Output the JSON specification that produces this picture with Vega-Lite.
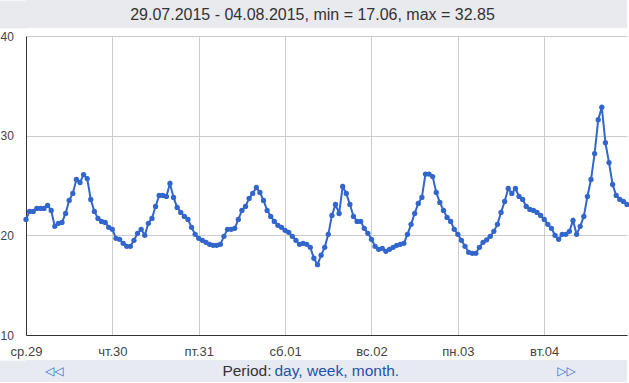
{
  "$schema": "https://vega.github.io/schema/vega-lite/v6.json",
  "padding": 0,
  "spacing": 2,
  "background": "white",
  "config": {
    "font": "Liberation Sans",
    "view": {"stroke": null},
    "axis": {"labelFont": "Liberation Sans", "labelFontSize": 13, "labelColor": "#444", "gridColor": "#cccccc", "gridWidth": 1, "domainColor": "#333333", "domainWidth": 1, "ticks": false, "tickSize": 0, "title": null}
  },
  "datasets": {
    "temp": [
      {"t": "2015-07-29T00:00", "v": 21.6}, {"t": "2015-07-29T01:00", "v": 22.4}, {"t": "2015-07-29T02:00", "v": 22.4}, {"t": "2015-07-29T03:00", "v": 22.7},
      {"t": "2015-07-29T04:00", "v": 22.7}, {"t": "2015-07-29T05:00", "v": 22.7}, {"t": "2015-07-29T06:00", "v": 23.0}, {"t": "2015-07-29T07:00", "v": 22.5},
      {"t": "2015-07-29T08:00", "v": 20.9}, {"t": "2015-07-29T09:00", "v": 21.2}, {"t": "2015-07-29T10:00", "v": 21.3}, {"t": "2015-07-29T11:00", "v": 22.2},
      {"t": "2015-07-29T12:00", "v": 23.5}, {"t": "2015-07-29T13:00", "v": 24.2}, {"t": "2015-07-29T14:00", "v": 25.6}, {"t": "2015-07-29T15:00", "v": 25.3},
      {"t": "2015-07-29T16:00", "v": 26.1}, {"t": "2015-07-29T17:00", "v": 25.7}, {"t": "2015-07-29T18:00", "v": 23.6}, {"t": "2015-07-29T19:00", "v": 22.4},
      {"t": "2015-07-29T20:00", "v": 21.7}, {"t": "2015-07-29T21:00", "v": 21.4}, {"t": "2015-07-29T22:00", "v": 21.3}, {"t": "2015-07-29T23:00", "v": 20.8},
      {"t": "2015-07-30T00:00", "v": 20.6}, {"t": "2015-07-30T01:00", "v": 19.7}, {"t": "2015-07-30T02:00", "v": 19.6}, {"t": "2015-07-30T03:00", "v": 19.2},
      {"t": "2015-07-30T04:00", "v": 18.9}, {"t": "2015-07-30T05:00", "v": 18.9}, {"t": "2015-07-30T06:00", "v": 19.5}, {"t": "2015-07-30T07:00", "v": 20.2},
      {"t": "2015-07-30T08:00", "v": 20.6}, {"t": "2015-07-30T09:00", "v": 20.0}, {"t": "2015-07-30T10:00", "v": 21.2}, {"t": "2015-07-30T11:00", "v": 21.7},
      {"t": "2015-07-30T12:00", "v": 22.9}, {"t": "2015-07-30T13:00", "v": 24.0}, {"t": "2015-07-30T14:00", "v": 24.0}, {"t": "2015-07-30T15:00", "v": 23.9},
      {"t": "2015-07-30T16:00", "v": 25.2}, {"t": "2015-07-30T17:00", "v": 23.8}, {"t": "2015-07-30T18:00", "v": 22.8}, {"t": "2015-07-30T19:00", "v": 22.3},
      {"t": "2015-07-30T20:00", "v": 21.9}, {"t": "2015-07-30T21:00", "v": 21.6}, {"t": "2015-07-30T22:00", "v": 20.8}, {"t": "2015-07-30T23:00", "v": 20.1},
      {"t": "2015-07-31T00:00", "v": 19.7}, {"t": "2015-07-31T01:00", "v": 19.5}, {"t": "2015-07-31T02:00", "v": 19.3}, {"t": "2015-07-31T03:00", "v": 19.1},
      {"t": "2015-07-31T04:00", "v": 19.0}, {"t": "2015-07-31T05:00", "v": 19.0}, {"t": "2015-07-31T06:00", "v": 19.1}, {"t": "2015-07-31T07:00", "v": 19.9},
      {"t": "2015-07-31T08:00", "v": 20.6}, {"t": "2015-07-31T09:00", "v": 20.6}, {"t": "2015-07-31T10:00", "v": 20.7}, {"t": "2015-07-31T11:00", "v": 21.6},
      {"t": "2015-07-31T12:00", "v": 22.5}, {"t": "2015-07-31T13:00", "v": 22.9}, {"t": "2015-07-31T14:00", "v": 23.7}, {"t": "2015-07-31T15:00", "v": 24.2},
      {"t": "2015-07-31T16:00", "v": 24.8}, {"t": "2015-07-31T17:00", "v": 24.3}, {"t": "2015-07-31T18:00", "v": 23.5}, {"t": "2015-07-31T19:00", "v": 22.5},
      {"t": "2015-07-31T20:00", "v": 21.9}, {"t": "2015-07-31T21:00", "v": 21.4}, {"t": "2015-07-31T22:00", "v": 21.0}, {"t": "2015-07-31T23:00", "v": 20.8},
      {"t": "2015-08-01T00:00", "v": 20.5}, {"t": "2015-08-01T01:00", "v": 20.3}, {"t": "2015-08-01T02:00", "v": 19.9}, {"t": "2015-08-01T03:00", "v": 19.5},
      {"t": "2015-08-01T04:00", "v": 19.1}, {"t": "2015-08-01T05:00", "v": 19.2}, {"t": "2015-08-01T06:00", "v": 19.1}, {"t": "2015-08-01T07:00", "v": 18.8},
      {"t": "2015-08-01T08:00", "v": 17.7}, {"t": "2015-08-01T09:00", "v": 17.06}, {"t": "2015-08-01T10:00", "v": 18.0}, {"t": "2015-08-01T11:00", "v": 18.8},
      {"t": "2015-08-01T12:00", "v": 20.1}, {"t": "2015-08-01T13:00", "v": 22.0}, {"t": "2015-08-01T14:00", "v": 23.1}, {"t": "2015-08-01T15:00", "v": 22.2},
      {"t": "2015-08-01T16:00", "v": 24.9}, {"t": "2015-08-01T17:00", "v": 24.2}, {"t": "2015-08-01T18:00", "v": 23.1}, {"t": "2015-08-01T19:00", "v": 21.9},
      {"t": "2015-08-01T20:00", "v": 21.4}, {"t": "2015-08-01T21:00", "v": 21.4}, {"t": "2015-08-01T22:00", "v": 20.7}, {"t": "2015-08-01T23:00", "v": 20.2},
      {"t": "2015-08-02T00:00", "v": 19.6}, {"t": "2015-08-02T01:00", "v": 18.9}, {"t": "2015-08-02T02:00", "v": 18.6}, {"t": "2015-08-02T03:00", "v": 18.7},
      {"t": "2015-08-02T04:00", "v": 18.4}, {"t": "2015-08-02T05:00", "v": 18.6}, {"t": "2015-08-02T06:00", "v": 18.8}, {"t": "2015-08-02T07:00", "v": 19.0},
      {"t": "2015-08-02T08:00", "v": 19.1}, {"t": "2015-08-02T09:00", "v": 19.2}, {"t": "2015-08-02T10:00", "v": 20.1}, {"t": "2015-08-02T11:00", "v": 21.1},
      {"t": "2015-08-02T12:00", "v": 22.2}, {"t": "2015-08-02T13:00", "v": 23.2}, {"t": "2015-08-02T14:00", "v": 23.8}, {"t": "2015-08-02T15:00", "v": 26.15},
      {"t": "2015-08-02T16:00", "v": 26.15}, {"t": "2015-08-02T17:00", "v": 25.9}, {"t": "2015-08-02T18:00", "v": 24.3}, {"t": "2015-08-02T19:00", "v": 23.3},
      {"t": "2015-08-02T20:00", "v": 22.5}, {"t": "2015-08-02T21:00", "v": 21.8}, {"t": "2015-08-02T22:00", "v": 21.4}, {"t": "2015-08-02T23:00", "v": 20.6},
      {"t": "2015-08-03T00:00", "v": 20.1}, {"t": "2015-08-03T01:00", "v": 19.5}, {"t": "2015-08-03T02:00", "v": 18.9}, {"t": "2015-08-03T03:00", "v": 18.3},
      {"t": "2015-08-03T04:00", "v": 18.2}, {"t": "2015-08-03T05:00", "v": 18.2}, {"t": "2015-08-03T06:00", "v": 18.8}, {"t": "2015-08-03T07:00", "v": 19.3},
      {"t": "2015-08-03T08:00", "v": 19.55}, {"t": "2015-08-03T09:00", "v": 19.9}, {"t": "2015-08-03T10:00", "v": 20.4}, {"t": "2015-08-03T11:00", "v": 21.1},
      {"t": "2015-08-03T12:00", "v": 22.3}, {"t": "2015-08-03T13:00", "v": 23.4}, {"t": "2015-08-03T14:00", "v": 24.7}, {"t": "2015-08-03T15:00", "v": 24.2},
      {"t": "2015-08-03T16:00", "v": 24.7}, {"t": "2015-08-03T17:00", "v": 23.9}, {"t": "2015-08-03T18:00", "v": 23.6}, {"t": "2015-08-03T19:00", "v": 22.9},
      {"t": "2015-08-03T20:00", "v": 22.6}, {"t": "2015-08-03T21:00", "v": 22.5}, {"t": "2015-08-03T22:00", "v": 22.3}, {"t": "2015-08-03T23:00", "v": 22.0},
      {"t": "2015-08-04T00:00", "v": 21.6}, {"t": "2015-08-04T01:00", "v": 21.1}, {"t": "2015-08-04T02:00", "v": 20.7}, {"t": "2015-08-04T03:00", "v": 20.0},
      {"t": "2015-08-04T04:00", "v": 19.6}, {"t": "2015-08-04T05:00", "v": 20.1}, {"t": "2015-08-04T06:00", "v": 20.1}, {"t": "2015-08-04T07:00", "v": 20.4},
      {"t": "2015-08-04T08:00", "v": 21.5}, {"t": "2015-08-04T09:00", "v": 20.1}, {"t": "2015-08-04T10:00", "v": 20.9}, {"t": "2015-08-04T11:00", "v": 21.9},
      {"t": "2015-08-04T12:00", "v": 23.9}, {"t": "2015-08-04T13:00", "v": 25.6}, {"t": "2015-08-04T14:00", "v": 28.2}, {"t": "2015-08-04T15:00", "v": 31.6},
      {"t": "2015-08-04T16:00", "v": 32.85}, {"t": "2015-08-04T17:00", "v": 29.3}, {"t": "2015-08-04T18:00", "v": 27.3}, {"t": "2015-08-04T19:00", "v": 25.1},
      {"t": "2015-08-04T20:00", "v": 24.0}, {"t": "2015-08-04T21:00", "v": 23.6}, {"t": "2015-08-04T22:00", "v": 23.4}, {"t": "2015-08-04T23:00", "v": 23.1}
    ]
  },
  "vconcat": [
    {
      "width": 601,
      "height": 28,
      "view": {"fill": "#e9eaee", "stroke": null},
      "data": {"values": [{"label": "29.07.2015 - 04.08.2015, min = 17.06, max = 32.85"}]},
      "mark": {"type": "text", "font": "Liberation Sans", "fontSize": 16, "color": "#333333", "align": "center", "baseline": "middle", "dx": -14, "dy": 1},
      "encoding": {
        "text": {"field": "label"},
        "y": {"field": "label", "type": "nominal", "axis": {"labels": false, "ticks": false, "grid": false, "domain": true, "domainColor": "#e9eaee", "domainWidth": 28, "offset": 14, "title": null}}
      }
    },
    {
      "width": 601,
      "height": 299,
      "data": {"name": "temp"},
      "mark": {"type": "line", "color": "#3366cc", "strokeWidth": 2, "point": {"filled": true, "size": 28, "color": "#3366cc"}},
      "encoding": {
        "x": {
          "field": "t", "type": "temporal",
          "scale": {"domain": [{"year": 2015, "month": 7, "date": 29, "hours": 0}, {"year": 2015, "month": 8, "date": 4, "hours": 23}], "nice": false},
          "axis": {
            "values": [
              {"year": 2015, "month": 7, "date": 29}, {"year": 2015, "month": 7, "date": 30}, {"year": 2015, "month": 7, "date": 31},
              {"year": 2015, "month": 8, "date": 1}, {"year": 2015, "month": 8, "date": 2}, {"year": 2015, "month": 8, "date": 3},
              {"year": 2015, "month": 8, "date": 4}
            ],
            "labelExpr": "['вс','пн','вт','ср','чт','пт','сб'][day(datum.value)] + '.' + timeFormat(datum.value, '%d')",
            "labelFlush": false,
            "labelPadding": 10,
            "labelOverlap": false,
            "grid": true
          }
        },
        "y": {
          "field": "v", "type": "quantitative",
          "scale": {"domain": [10, 40], "nice": false, "zero": false},
          "axis": {"values": [10, 20, 30, 40], "labelAlign": "left", "labelPadding": 26, "labelFontSize": 12, "grid": true}
        }
      }
    },
    {
      "width": 601,
      "height": 22,
      "view": {"fill": "#e7eaf0", "stroke": null},
      "encoding": {
        "y": {"field": "band", "type": "nominal", "axis": {"labels": false, "ticks": false, "grid": false, "domain": true, "domainColor": "#e7eaf0", "domainWidth": 28, "offset": 14, "title": null}}
      },
      "layer": [
        {
          "data": {"values": [{"label": "Period:", "band": "nav"}]},
          "mark": {"type": "text", "font": "Liberation Sans", "fontSize": 15.5, "color": "#333333", "align": "right", "baseline": "middle", "dx": -55, "dy": 0},
          "encoding": {"text": {"field": "label"}}
        },
        {
          "data": {"values": [{"label": "day, week, month.", "band": "nav"}]},
          "mark": {"type": "text", "font": "Liberation Sans", "fontSize": 15.5, "color": "#2353a8", "align": "left", "baseline": "middle", "dx": -52, "dy": 0},
          "encoding": {"text": {"field": "label"}}
        },
        {
          "data": {"values": [{"label": "◁◁", "band": "nav"}]},
          "mark": {"type": "text", "font": "DejaVu Sans", "fontSize": 12, "color": "#2f6fce", "align": "center", "baseline": "middle", "dx": -272, "dy": 0},
          "encoding": {"text": {"field": "label"}}
        },
        {
          "data": {"values": [{"label": "▷▷", "band": "nav"}]},
          "mark": {"type": "text", "font": "DejaVu Sans", "fontSize": 12, "color": "#2f6fce", "align": "center", "baseline": "middle", "dx": 240, "dy": 0},
          "encoding": {"text": {"field": "label"}}
        }
      ]
    }
  ]
}
